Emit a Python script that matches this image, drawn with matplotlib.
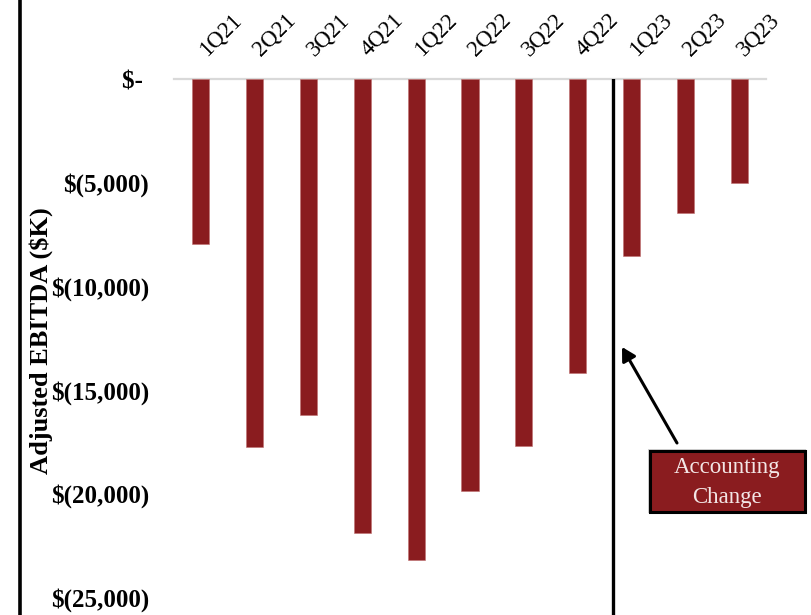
import matplotlib
matplotlib.use('Agg')
import matplotlib.pyplot as plt
from matplotlib.patches import Rectangle, FancyArrowPatch
from matplotlib.lines import Line2D
from matplotlib.transforms import ScaledTranslation

quarters = ['1Q21', '2Q21', '3Q21', '4Q21', '1Q22', '2Q22', '3Q22', '4Q22',
            '1Q23', '2Q23', '3Q23']
ebitda = [-7950, -17730, -16190, -21875, -23210, -19880, -17680, -14160,
          -8520, -6480, -5030]
yticks = [0, -5000, -10000, -15000, -20000, -25000]
ytick_labels = ['$- ', '$(5,000)', '$(10,000)', '$(15,000)', '$(20,000)', '$(25,000)']

plt.rcParams['font.family'] = ['Liberation Serif', 'DejaVu Serif']

W, H = 811, 615
fig = plt.figure(figsize=(W / 100, H / 100), dpi=100)
ax = fig.add_axes([174 / W, 0, (766 - 174) / W, 1 - 79 / H])

red = '#8a1c1f'
x = list(range(len(quarters)))
ax.bar(x, ebitda, width=0.316, color=red, edgecolor='#c07070', linewidth=0.4, zorder=2)
ax.axhline(0, color='#d9d9d9', lw=1.6, zorder=1, clip_on=False)

ax.set_xlim(-0.5, len(quarters) - 0.5)
ax.set_ylim(-25844, 0)

ax.set_yticks(yticks)
ax.set_yticklabels(ytick_labels, fontsize=18, fontweight='bold')
ax.tick_params(axis='y', length=0, pad=18)

ax.xaxis.tick_top()
ax.set_xticks(x)
ax.set_xticklabels(quarters, fontsize=16.5, rotation=45, ha='left',
                   rotation_mode='anchor')
ax.tick_params(axis='x', length=0, pad=13.5)
shift = ScaledTranslation(9 / 100, 0, fig.dpi_scale_trans)
for lab in ax.get_xticklabels():
    lab.set_transform(lab.get_transform() + shift)

for s in ax.spines.values():
    s.set_visible(False)

# accounting change divider
ax.axvline(7.665, ymin=0, ymax=0.998, color='black', lw=2.4, zorder=3)

fig.text(41 / W, 1 - 341 / H, 'Adjusted EBITDA ($K)', rotation=90,
         fontsize=19, fontweight='bold', ha='center', va='center')

# left border
fig.add_artist(Line2D([20 / W, 20 / W], [0, 1], color='black', lw=2.6,
                      transform=fig.transFigure))

# annotation box
bx0, by0, bx1, by1 = 648, 449, 806, 513
fig.add_artist(Rectangle((bx0 / W, 1 - by1 / H), (bx1 - bx0) / W, (by1 - by0) / H,
                         transform=fig.transFigure, facecolor='#d0d0d0',
                         edgecolor='none'))
fig.add_artist(Rectangle(((bx0 + 1.5) / W, 1 - (by1 - 1.5) / H),
                         (bx1 - bx0 - 3) / W, (by1 - by0 - 3) / H,
                         transform=fig.transFigure, facecolor=red,
                         edgecolor='black', linewidth=2.2))
fig.text((bx0 + bx1) / 2 / W, 1 - 468 / H, 'Accounting', color='#f3e6e6',
         fontsize=16.5, ha='center', va='center')
fig.text((bx0 + bx1) / 2 / W, 1 - 497 / H, 'Change', color='#f3e6e6',
         fontsize=16.5, ha='center', va='center')

fig.add_artist(FancyArrowPatch((677 / W, 1 - 443 / H), (622 / W, 1 - 347 / H),
                               transform=fig.transFigure,
                               arrowstyle='-|>,head_length=8,head_width=4.5',
                               mutation_scale=1, color='black', lw=2.2,
                               shrinkA=0, shrinkB=0))

fig.savefig('out.png', dpi=100)
